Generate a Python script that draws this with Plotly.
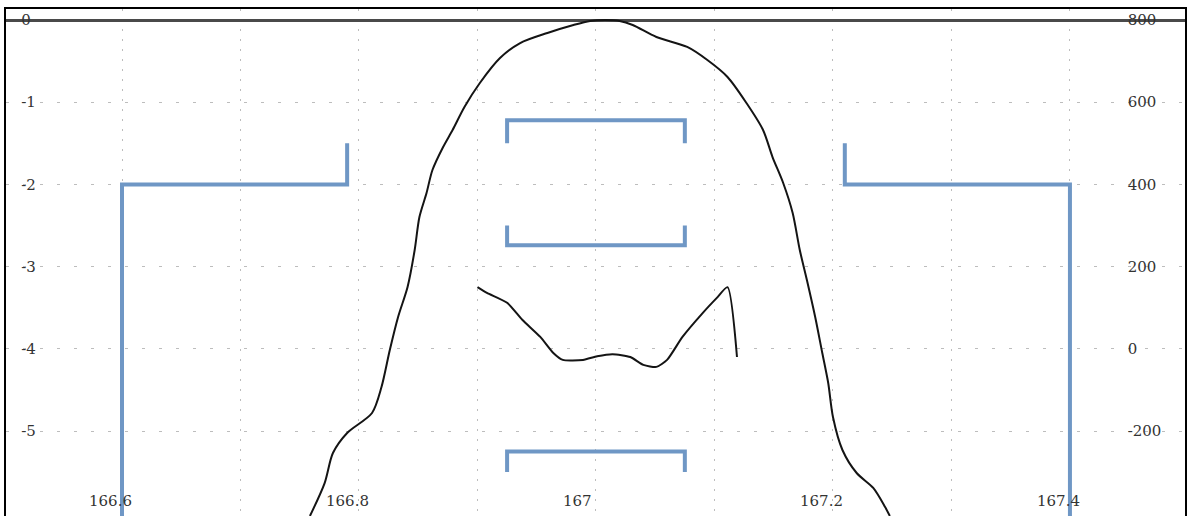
import plotly.graph_objects as go

# ---- data ----
x_ticks = [166.6, 166.8, 167.0, 167.2, 167.4]
x_tick_text = ["166.6", "166.8", "167", "167.2", "167.4"]
left_ticks = [0, -1, -2, -3, -4, -5]
right_ticks = [800, 600, 400, 200, 0, -200]

bell_x = [166.7586, 166.771, 166.778, 166.790, 166.811, 166.819, 166.826, 166.833,
          166.841, 166.847, 166.851, 166.857, 166.862, 166.871, 166.879, 166.889,
          166.902, 166.919, 166.936, 166.959, 166.981, 166.995, 167.008, 167.020,
          167.031, 167.051, 167.077, 167.094, 167.111, 167.127, 167.141, 167.149,
          167.158, 167.166, 167.172, 167.178, 167.185, 167.191, 167.196, 167.200,
          167.208, 167.220, 167.234, 167.244, 167.248]
bell_y = [-6.034, -5.633, -5.268, -5.024, -4.781, -4.465, -4.015, -3.613,
          -3.248, -2.798, -2.397, -2.105, -1.825, -1.545, -1.338, -1.058,
          -0.766, -0.462, -0.280, -0.158, -0.061, -0.012, 0.0, -0.012,
          -0.061, -0.207, -0.328, -0.487, -0.693, -1.010, -1.338, -1.667,
          -1.983, -2.348, -2.798, -3.163, -3.613, -4.051, -4.416, -4.830,
          -5.231, -5.511, -5.693, -5.925, -6.034]

small_x = [166.900, 166.908, 166.925, 166.938, 166.953, 166.964, 166.972, 166.989,
           167.001, 167.014, 167.029, 167.040, 167.051, 167.060, 167.073, 167.090,
           167.102, 167.111, 167.119]
small_y = [150, 136, 112, 70, 29, -10, -27, -27,
           -18, -13, -20, -39, -44, -27, 29, 87,
           124, 150, -20]

step_left_x = [166.6, 166.6, 166.79, 166.79]
step_left_y = [-6.5, -2.0, -2.0, -1.5]
step_right_x = [167.21, 167.21, 167.4, 167.4]
step_right_y = [-1.5, -2.0, -2.0, -6.5]

bracket_x = [166.925, 166.925, 167.075, 167.075]
bracket_top_y = [-1.5, -1.22, -1.22, -1.5]
bracket_mid_y = [-2.5, -2.74, -2.74, -2.5]
bracket_low_y = [-5.5, -5.25, -5.25, -5.5]

BLUE = "#6f97c5"
INK = "#141414"
FONT = dict(family="DejaVu Serif", size=15, color="#333333")
Y_RANGE = [-6.034, 0.1338]

fig = go.Figure()

for xs, ys in [(step_left_x, step_left_y), (step_right_x, step_right_y),
               (bracket_x, bracket_top_y), (bracket_x, bracket_mid_y),
               (bracket_x, bracket_low_y)]:
    fig.add_trace(go.Scatter(x=xs, y=ys, mode="lines",
                             line=dict(color=BLUE, width=4), hoverinfo="skip"))

fig.add_trace(go.Scatter(x=bell_x, y=bell_y, mode="lines", yaxis="y3",
                         line=dict(color=INK, width=2, shape="spline", smoothing=0.8)))
fig.add_trace(go.Scatter(x=small_x, y=small_y, mode="lines", yaxis="y2",
                         line=dict(color=INK, width=2, shape="spline", smoothing=0.6)))

for v, t in zip(x_ticks, x_tick_text):
    fig.add_annotation(x=v, xref="x", y=0.0296, yref="paper", text=t,
                       showarrow=False, xanchor="left", yanchor="middle",
                       xshift=-35, font=FONT)

fig.update_layout(
    width=1188, height=516,
    margin=dict(l=6, r=3, t=9, b=0),
    paper_bgcolor="white", plot_bgcolor="white",
    showlegend=False,
    xaxis=dict(range=[166.5021, 167.4971], side="top",
               tick0=166.6, dtick=0.1, showticklabels=False, ticks="",
               showgrid=True, gridcolor="#bdbdbd", gridwidth=1, griddash="2px,8px",
               showline=True, linecolor="black", linewidth=1.5, zeroline=False),
    yaxis=dict(range=Y_RANGE, tickvals=left_ticks, showticklabels=False, ticks="",
               showgrid=True, gridcolor="#bdbdbd", gridwidth=1, griddash="3px,14px",
               showline=True, mirror=True, linecolor="black", linewidth=1.5,
               zeroline=True, zerolinecolor="#4a4a4a", zerolinewidth=3),
    yaxis2=dict(range=[-406.8, 826.8], overlaying="y", side="right",
                anchor="free", position=0.9505,
                tickvals=right_ticks, ticktext=[str(v) for v in right_ticks],
                ticks="", tickfont=FONT, showgrid=False, showline=False,
                zeroline=False),
    yaxis3=dict(range=Y_RANGE, overlaying="y", side="right",
                anchor="free", position=0.012,
                tickvals=left_ticks, ticktext=[str(v) for v in left_ticks],
                ticks="", tickfont=FONT, showgrid=False, showline=False,
                zeroline=False),
)

fig.write_html("out.html", config={"displayModeBar": False},
               post_script="document.body.style.margin='0';document.body.style.overflow='hidden';")
